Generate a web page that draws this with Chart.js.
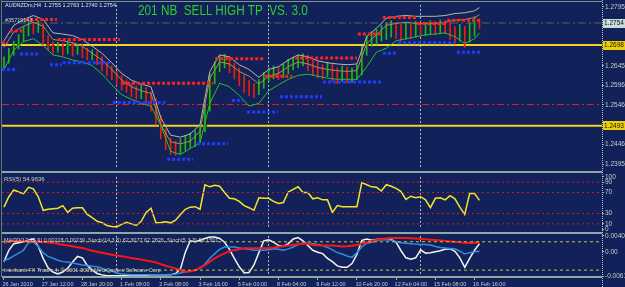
<!DOCTYPE html>
<html><head><meta charset="utf-8">
<script src="https://cdn.jsdelivr.net/npm/chart.js@4.4.1/dist/chart.umd.min.js"></script>
<style>
html,body{margin:0;padding:0;background:#12215a;width:625px;height:287px;overflow:hidden;}
#wrap{position:relative;width:625px;height:287px;}
canvas{position:absolute;left:0;}
.t{position:absolute;font-family:"Liberation Sans",Arial,sans-serif;white-space:pre;line-height:1;}
.ln{position:absolute;}
</style></head><body><div id="wrap">
<canvas id="cMain" width="625" height="172" style="top:0;width:625px;height:172px"></canvas>
<canvas id="cRsi" width="625" height="62" style="top:172px;width:625px;height:62px"></canvas>
<canvas id="cMacd" width="625" height="56" style="top:231px;width:625px;height:56px"></canvas>
<div class="ln" style="left:2px;top:1px;width:600px;height:1px;background:#7d978d"></div>
<div class="ln" style="left:1px;top:0;width:1px;height:277px;background:#5f7a6f"></div>
<div class="ln" style="left:2px;top:171px;width:600px;height:2px;background:#8fa9a2"></div>
<div class="ln" style="left:2px;top:232px;width:600px;height:2px;background:#8fa9a2"></div>
<div class="ln" style="left:2px;top:276px;width:600px;height:2px;background:#8fa9a2"></div>
<div class="ln" style="left:602px;top:0;height:287px;border-left:1px dotted #b8c8c0"></div>
<div class="t" style="left:5px;top:3px;font-size:5.5px;color:#dde5dd">AUDNZDm,H4  1.2755 1.2763 1.2740 1.2754</div>
<div class="t" style="left:5px;top:18px;font-size:5.5px;color:#c8d0c8">#35719143</div>
<div class="t" style="left:138px;top:2px;font-size:14px;line-height:16px;color:#2ecc2e;transform:scaleX(0.84);transform-origin:left top">201 NB  SELL HIGH TP  VS. 3.0</div>
<div class="t" style="left:4px;top:176px;font-size:6px;color:#c8d0c8">RSI(5) 54.9636</div>
<div class="t" style="left:4px;top:238px;font-size:5.5px;color:#c8d0c8">MACD(12,26,9) 0.00218 0.00239  Stoch(14,3,5) 62.3077 62.2826  Stoch(5,3,3) 58.1501</div>
<div class="t" style="left:4px;top:268px;font-size:5.5px;color:#c8d0c8">Interbank FX Trader 4, © 2001-2009 MetaQuotes Software Corp.</div>
</div>
<script>
// ---------- data ----------
const timeLabels = ['26 Jan 2010','27 Jan 12:00','28 Jan 20:00','1 Feb 08:00','2 Feb 08:00','3 Feb 16:00','5 Feb 00:00','8 Feb 04:00','9 Feb 12:00','10 Feb 20:00','12 Feb 04:00','15 Feb 08:00','16 Feb 16:00'];
const timeTickBars = [0,8,16,24,32,40,48,56,64,72,80,88,96];
const separatorBars = [22.85, 53.9, 84.9];

const opens = [1.2650,1.2660,1.2680,1.2697,1.2714,1.2734,1.2744,1.2739,1.2748,1.2714,
1.2697,1.2690,1.2695,1.2685,1.2699,1.2685,1.2690,1.2680,1.2673,1.2675,
1.2660,1.2646,1.2636,1.2626,1.2611,1.2599,1.2592,1.2582,1.2577,1.2582,
1.2567,1.2557,1.2513,1.2477,1.2452,1.2440,1.2435,1.2445,1.2450,1.2459,
1.2464,1.2484,1.2538,1.2611,1.2641,1.2655,1.2660,1.2646,1.2631,1.2611,
1.2597,1.2587,1.2582,1.2597,1.2616,1.2626,1.2631,1.2626,1.2636,1.2650,
1.2655,1.2660,1.2665,1.2650,1.2641,1.2636,1.2631,1.2641,1.2626,1.2621,
1.2631,1.2621,1.2626,1.2631,1.2685,1.2709,1.2719,1.2724,1.2734,1.2739,
1.2744,1.2734,1.2729,1.2739,1.2734,1.2744,1.2739,1.2741,1.2746,1.2741,
1.2748,1.2744,1.2734,1.2724,1.2734,1.2724,1.2739,1.2755];
const closes = [1.2660,1.2680,1.2697,1.2714,1.2734,1.2744,1.2739,1.2748,1.2714,1.2697,
1.2690,1.2695,1.2685,1.2699,1.2685,1.2690,1.2680,1.2673,1.2675,1.2660,
1.2646,1.2636,1.2626,1.2611,1.2599,1.2592,1.2582,1.2577,1.2582,1.2567,
1.2557,1.2513,1.2477,1.2452,1.2440,1.2435,1.2445,1.2450,1.2459,1.2464,
1.2484,1.2538,1.2611,1.2641,1.2655,1.2660,1.2646,1.2631,1.2611,1.2597,
1.2587,1.2582,1.2597,1.2616,1.2626,1.2631,1.2626,1.2636,1.2650,1.2655,
1.2660,1.2665,1.2650,1.2641,1.2636,1.2631,1.2641,1.2626,1.2621,1.2631,
1.2621,1.2626,1.2631,1.2685,1.2709,1.2719,1.2724,1.2734,1.2739,1.2744,
1.2734,1.2729,1.2739,1.2734,1.2744,1.2739,1.2741,1.2746,1.2741,1.2748,
1.2744,1.2734,1.2724,1.2734,1.2724,1.2739,1.2748,1.2754];
const highs = [1.2668,1.2690,1.2708,1.2725,1.2745,1.2756,1.2755,1.2760,1.2752,1.2722,
1.2706,1.2705,1.2702,1.2708,1.2705,1.2700,1.2698,1.2690,1.2686,1.2682,
1.2668,1.2655,1.2645,1.2632,1.2620,1.2610,1.2600,1.2595,1.2596,1.2590,
1.2580,1.2562,1.2520,1.2485,1.2462,1.2455,1.2460,1.2468,1.2475,1.2480,
1.2495,1.2548,1.2625,1.2655,1.2670,1.2675,1.2668,1.2652,1.2640,1.2622,
1.2608,1.2600,1.2610,1.2628,1.2640,1.2645,1.2642,1.2650,1.2662,1.2668,
1.2672,1.2676,1.2672,1.2660,1.2655,1.2648,1.2655,1.2650,1.2640,1.2645,
1.2642,1.2640,1.2648,1.2695,1.2722,1.2732,1.2738,1.2748,1.2755,1.2760,
1.2756,1.2750,1.2755,1.2752,1.2758,1.2756,1.2755,1.2760,1.2758,1.2762,
1.2760,1.2755,1.2745,1.2750,1.2746,1.2755,1.2770,1.2763];
const lows = [1.2640,1.2652,1.2672,1.2688,1.2706,1.2722,1.2726,1.2730,1.2700,1.2685,
1.2678,1.2680,1.2672,1.2676,1.2670,1.2674,1.2666,1.2660,1.2660,1.2648,
1.2632,1.2620,1.2610,1.2596,1.2584,1.2578,1.2566,1.2560,1.2562,1.2550,
1.2530,1.2495,1.2460,1.2432,1.2420,1.2418,1.2422,1.2430,1.2436,1.2440,
1.2450,1.2478,1.2530,1.2600,1.2630,1.2640,1.2628,1.2612,1.2595,1.2578,
1.2570,1.2565,1.2572,1.2588,1.2605,1.2612,1.2610,1.2615,1.2625,1.2635,
1.2640,1.2645,1.2632,1.2622,1.2615,1.2612,1.2618,1.2606,1.2600,1.2606,
1.2602,1.2604,1.2610,1.2622,1.2672,1.2695,1.2700,1.2708,1.2712,1.2718,
1.2715,1.2708,1.2712,1.2714,1.2718,1.2720,1.2722,1.2726,1.2724,1.2728,
1.2726,1.2712,1.2700,1.2708,1.2692,1.2705,1.2720,1.2740];

const bandBars = [0,2,4,6,8,10,12,14,16,18,20,22,24,26,28,30,32,34,36,38,40,42,44,46,48,50,52,54,56,58,60,62,64,66,68,70,72,74,76,78,80,82,84,86,88,90,92,94,96,97];
const upperBand = [1.2709,1.2748,1.2763,1.2773,1.2763,1.2729,1.2726,1.2722,1.2712,1.2695,
1.2677,1.2653,1.2626,1.2609,1.2599,1.2592,1.2513,1.2469,1.2464,1.2472,
1.2496,1.2631,1.2673,1.2668,1.2648,1.2636,1.2616,1.2636,1.2643,1.2660,
1.2673,1.2668,1.2658,1.2653,1.2650,1.2648,1.2650,1.2719,1.2741,1.2766,
1.2771,1.2773,1.2771,1.2771,1.2771,1.2773,1.2778,1.2780,1.2785,1.2793];
const middleBand = [1.2692,1.2731,1.2746,1.2756,1.2746,1.2712,1.2709,1.2704,1.2695,1.2677,
1.2660,1.2636,1.2609,1.2592,1.2582,1.2575,1.2496,1.2452,1.2447,1.2454,
1.2479,1.2614,1.2655,1.2650,1.2631,1.2619,1.2599,1.2619,1.2626,1.2643,
1.2655,1.2650,1.2641,1.2636,1.2633,1.2631,1.2633,1.2702,1.2724,1.2748,
1.2753,1.2756,1.2753,1.2753,1.2753,1.2756,1.2761,1.2763,1.2768,1.2775];
const lowerBand = [1.2636,1.2685,1.2707,1.2714,1.2697,1.2673,1.2668,1.2660,1.2655,1.2646,
1.2624,1.2597,1.2572,1.2560,1.2550,1.2543,1.2494,1.2428,1.2420,1.2435,
1.2450,1.2550,1.2601,1.2592,1.2570,1.2543,1.2550,1.2582,1.2597,1.2611,
1.2621,1.2624,1.2619,1.2614,1.2611,1.2611,1.2611,1.2643,1.2680,1.2690,
1.2709,1.2714,1.2719,1.2724,1.2726,1.2729,1.2719,1.2702,1.2714,1.2729];

// resistance (red dotted) and support (blue dotted) segments: start bar, end bar, price
const resistStart = [-0.4, 1.2, 4.3, 11.0, 24.1, 43.1, 53.3, 59.4, 72.2, 77.3, 84.3, 90.4];
const resistEnd   = [0.8, 3.7, 10.8, 23.7, 42.7, 52.9, 58.8, 72.0, 77.1, 84.1, 90.0, 97.1];
const resistLevel = [1.2704,1.2734,1.2763,1.2712,1.2601,1.2663,1.2619,1.2665,1.2726,1.2768,1.2753,1.2761];
const supportStart = [-0.4, 3.3, 9.4, 12.0, 22.2, 33.3, 39.4, 46.5, 49.6, 56.3, 65.1, 77.3, 80.4, 92.4];
const supportEnd   = [2.7, 7.3, 11.8, 21.6, 32.9, 38.6, 45.7, 48.8, 55.9, 64.9, 77.1, 80.2, 92.0, 97.1];
const supportLevel = [1.2636,1.2675,1.2648,1.2653,1.2552,1.2408,1.2447,1.2557,1.2528,1.2567,1.2604,1.2677,1.2704,1.2680];

const yellowLevels = [1.2698, 1.2493];
const redDashLevel = 1.2547;
const bidLevel = 1.2754;
const priceTicks = [1.2795,1.2745,1.2645,1.2596,1.2546,1.2446,1.2395];
const boxLevels = [1.2754, 1.2698, 1.2493];
const boxColors = ['#c8dcdc', '#f0d000', '#f0d000'];

const rsi = [42,62,75,71,68,80,77,62,36,38,
39,40,45,32,40,41,41,28,22,15,
12.5,7,5,4,9,13,10,7,15,32,
40,12,12.5,14,12,17,28,38,42,43,
38,85,81,84,82,70,59,58,53,45,
41,36,60,59,59,53,49,51,71,76,
81,70,70,58,60,56,56,32,45,43,
43,43,43,89,85,81,80,73,85,82,
78,72,57,63,60,62,56,41,59,60,
56,64,58,42,28,68,68,54.96];
const rsiLevels = [90,70,30,10];
const rsiTicks = [100,90,70,30,10,0];

const stochMain = [38,62,76,78,80,83,86,70,45,25,
16,12,16,24,37,49,46,30,20,13,
10,8,8,8,8,8,8,8,9,9,
10,10,10,10,10,13,22,58,82,80,
83,87,90,90,87,79,64,45,27,14,
15,31,57,82,84,79,72,70,76,86,
89,82,72,62,58,55,45,38,29,26,
26,34,53,83,86,83,85,86,86,85,
79,61,46,43,46,63,56,57,59,61,
64,65,60,46,26,45,62,76];
const stochSignal = [40,44,50,56,62,78,80,70,57,49,
45,41,38,37,35,33,31,30,28,27,
24,20,18,14,12,11,10,10,10,10,
10,10,10,10,11,12,14,16,18,20,
24,33,45,55,64,69,69,69,67,65,
64,62,62,62,63,65,64,62,65,69,
74,78,77,76,74,72,68,63,57,54,
50,47,57,69,77,79,82,84,85,83,
80,78,77,76,75,74,74,73,70,68,
67,66,65,60,54,57,59,60];
const macd = [0.00228,0.00250,0.00278,0.00270,0.00263,0.00263,0.00263,0.00255,0.00245,0.00232,
0.00220,0.00200,0.00177,0.00156,0.00136,0.00113,0.00092,0.00060,0.00025,-0.00002,
-0.00028,-0.00052,-0.00075,-0.00097,-0.00116,-0.00137,-0.00159,-0.00179,-0.00200,-0.00224,
-0.00245,-0.00270,-0.00315,-0.00355,-0.00390,-0.00425,-0.00475,-0.00515,-0.00495,-0.00470,
-0.00400,-0.00340,-0.00250,-0.00165,-0.00100,-0.00040,0.00005,0.00044,0.00065,0.00089,
0.00090,0.00090,0.00090,0.00090,0.00095,0.00110,0.00128,0.00142,0.00157,0.00173,
0.00188,0.00205,0.00200,0.00170,0.00162,0.00159,0.00159,0.00155,0.00145,0.00135,
0.00140,0.00152,0.00170,0.00205,0.00240,0.00270,0.00300,0.00320,0.00335,0.00349,
0.00350,0.00350,0.00348,0.00342,0.00333,0.00325,0.00315,0.00305,0.00295,0.00284,
0.00275,0.00262,0.00250,0.00237,0.00225,0.00222,0.00230,0.00237];
const stochLevels = [80, 20];
const macdTicks = [0.00401, 0, -0.00615];

// ---------- shared ----------
const xMin = -0.4, xMax = 122.0;
const FONT = 'Liberation Sans';
const tickColor = '#c4cec4';

const sepPlugin = {
  id: 'seps',
  beforeDatasetsDraw(chart) {
    const {ctx, chartArea, scales} = chart;
    ctx.save();
    ctx.strokeStyle = '#b4c4b4';
    ctx.lineWidth = 1;
    ctx.setLineDash([2, 2]);
    separatorBars.forEach(b => {
      const x = Math.round(scales.x.getPixelForValue(b)) + 0.5;
      ctx.beginPath(); ctx.moveTo(x, chartArea.top); ctx.lineTo(x, chartArea.bottom); ctx.stroke();
    });
    ctx.restore();
  }
};
const boxPlugin = {
  id: 'boxes',
  afterDraw(chart) {
    const {ctx, scales} = chart;
    ctx.save();
    ctx.font = '6.5px "' + FONT + '"';
    ctx.textBaseline = 'middle';
    boxLevels.forEach((lv, i) => {
      const y = scales.y.getPixelForValue(lv);
      ctx.fillStyle = boxColors[i];
      ctx.fillRect(603, Math.round(y - 4.5), 22, 9);
      ctx.fillStyle = '#101010';
      ctx.fillText(lv.toFixed(4), 604, y);
    });
    ctx.restore();
  }
};

function seg(x0, x1, y) { return [{x: x0, y: y}, {x: x1, y: y}]; }
function lineDs(data, color, width, extra) {
  return Object.assign({type: 'line', data: data, borderColor: color, borderWidth: width,
    pointRadius: 0, fill: false, tension: 0}, extra || {});
}
function yAxisBase(ticksArr, cb) {
  return {
    position: 'right',
    afterFit: s => { s.width = 23; },
    afterBuildTicks: s => { s.ticks = ticksArr.map(v => ({value: v})); },
    ticks: {callback: cb, color: tickColor, font: {family: FONT, size: 6.5}, padding: 1, autoSkip: false},
    grid: {display: true, drawOnChartArea: false, drawTicks: true, tickLength: 2, color: '#9fb0a0'},
    border: {display: false}
  };
}
const baseOpts = {responsive: false, animation: false, devicePixelRatio: 1,
  plugins: {legend: {display: false}, tooltip: {enabled: false}}};

// ---------- main price chart ----------
const bull = i => closes[i] >= opens[i];
const mainSets = [];
yellowLevels.forEach(lv => mainSets.push(lineDs(seg(xMin, xMax, lv), '#f2d21a', 2, {order: 20})));
mainSets.push(lineDs(seg(xMin, xMax, redDashLevel), '#e01c1c', 1, {borderDash: [7, 3, 2, 3], order: 20}));
mainSets.push(lineDs(seg(xMin, xMax, bidLevel), '#55684c', 1, {borderDash: [8, 3, 2, 3], order: 20}));
mainSets.push({type: 'bar', grouped: false, order: 12, barThickness: 3,
  data: opens.map((o, i) => ({x: i, y: [Math.min(o, closes[i]), Math.max(o, closes[i])]})),
  backgroundColor: '#1b2d1c', borderWidth: 0});
mainSets.push({type: 'bar', grouped: false, order: 11, barThickness: 1,
  data: highs.map((h, i) => ({x: i, y: [lows[i], h]})),
  backgroundColor: ctx => bull(ctx.dataIndex) ? '#1fb41f' : '#e81c1c', borderWidth: 0});
mainSets.push(lineDs(bandBars.map((b, k) => ({x: b, y: upperBand[k]})), '#b9b9a6', 1, {order: 8}));
mainSets.push(lineDs(bandBars.map((b, k) => ({x: b, y: middleBand[k]})), '#a88c62', 1, {order: 7}));
mainSets.push(lineDs(bandBars.map((b, k) => ({x: b, y: lowerBand[k]})), '#22c426', 1, {order: 6}));
resistLevel.forEach((lv, k) => mainSets.push(lineDs(seg(resistStart[k], resistEnd[k], lv), '#ff2020', 3, {borderDash: [3, 2], order: 2})));
supportLevel.forEach((lv, k) => mainSets.push(lineDs(seg(supportStart[k], supportEnd[k], lv), '#1f3cff', 3, {borderDash: [3, 2], order: 2})));

new Chart(document.getElementById('cMain'), {
  type: 'bar',
  data: {datasets: mainSets},
  options: Object.assign({}, baseOpts, {
    layout: {padding: {left: 2, top: 1, bottom: 1, right: 0}},
    scales: {
      x: {type: 'linear', min: xMin, max: xMax, display: false, offset: false},
      y: Object.assign(yAxisBase(priceTicks, v => v.toFixed(4)), {min: 1.2388, max: 1.2800})
    }
  }),
  plugins: [sepPlugin, boxPlugin]
});

// ---------- RSI ----------
const rsiSets = [];
rsiLevels.forEach(lv => rsiSets.push(lineDs(seg(xMin, xMax, lv), '#d21c1c', 1, {borderDash: [2, 3]})));
rsiSets.push(lineDs(rsi.map((v, i) => ({x: i, y: v})), '#f2e626', 1.5));
new Chart(document.getElementById('cRsi'), {
  type: 'line',
  data: {datasets: rsiSets},
  options: Object.assign({}, baseOpts, {
    layout: {padding: {left: 2, top: 2, bottom: 2.5, right: 0}},
    scales: {
      x: {type: 'linear', min: xMin, max: xMax, display: false},
      y: Object.assign(yAxisBase(rsiTicks, v => String(v)), {min: 0, max: 100})
    }
  }),
  plugins: [sepPlugin]
});

// ---------- MACD / Stochastic ----------
const mSets = [];
stochLevels.forEach(lv => mSets.push(lineDs(seg(xMin, xMax, lv), '#c8c836', 1, {borderDash: [3, 3], yAxisID: 'ys'})));
mSets.push(lineDs(macd.map((v, i) => ({x: i, y: v})), '#ff1414', 2, {yAxisID: 'y'}));
mSets.push(lineDs(stochSignal.map((v, i) => ({x: i, y: v})), '#2b8fe4', 1.5, {yAxisID: 'ys'}));
mSets.push(lineDs(stochMain.map((v, i) => ({x: i, y: v})), '#f4f4ee', 1.5, {yAxisID: 'ys'}));
new Chart(document.getElementById('cMacd'), {
  type: 'line',
  data: {datasets: mSets},
  options: Object.assign({}, baseOpts, {
    layout: {padding: {left: 2, top: 4, bottom: 0, right: 0}},
    scales: {
      x: {type: 'linear', min: xMin, max: xMax, position: 'bottom',
        afterFit: s => { s.height = 11; },
        afterBuildTicks: s => { s.ticks = timeTickBars.map(v => ({value: v})); },
        ticks: {callback: (v, i) => timeLabels[i], color: tickColor, font: {family: FONT, size: 5.5},
          align: 'start', maxRotation: 0, minRotation: 0, autoSkip: false, padding: 1, labelOffset: -1.5},
        grid: {display: true, drawOnChartArea: false, drawTicks: true, tickLength: 4, color: '#9fb0a0'},
        border: {display: false}},
      y: Object.assign(yAxisBase(macdTicks, v => v === 0 ? '0.00' : v.toFixed(5)), {min: -0.00615, max: 0.00401}),
      ys: {display: false, min: 7.6, max: 92.4}
    }
  }),
  plugins: [sepPlugin]
});
</script>
</body></html>
